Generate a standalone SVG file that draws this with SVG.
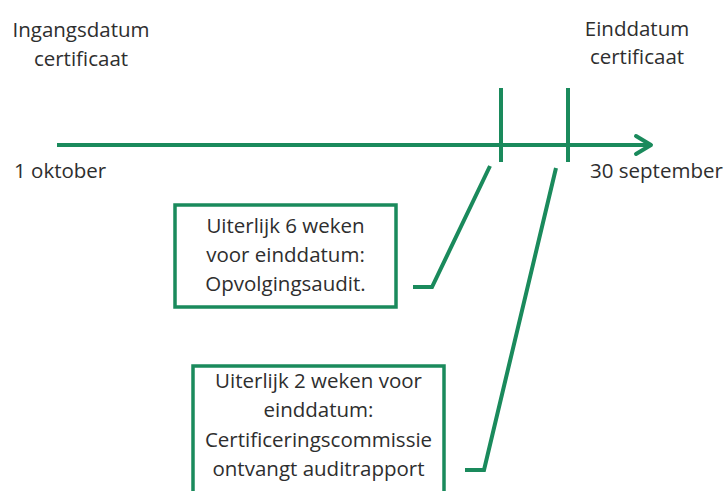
<svg xmlns="http://www.w3.org/2000/svg" width="728" height="491" viewBox="0 0 728 491">
<style>
.t{font-family:"Open Sans","Liberation Sans",sans-serif;font-size:20.5px;fill:#2e2e2e}
.m{text-anchor:middle}
.g{fill:none;stroke:#1a8a5c;stroke-width:4}
.b{fill:#fff;stroke:#1a8a5c;stroke-width:3.5}
</style>
<rect width="728" height="491" fill="#fff"/>
<g id="timeline">
<line class="g" x1="57" y1="145" x2="650" y2="145"/>
<polyline class="g" points="636,136 651,145 636,154" stroke-linecap="round" stroke-linejoin="round"/>
<line class="g" x1="501" y1="88" x2="501" y2="162"/>
<line class="g" x1="568" y1="88" x2="568" y2="162"/>
</g>
<g id="label-start">
<text class="t m" x="81" y="37">Ingangsdatum</text>
<text class="t m" x="81" y="66">certificaat</text>
</g>
<g id="label-end">
<text class="t m" x="637" y="36">Einddatum</text>
<text class="t m" x="637" y="64">certificaat</text>
</g>
<g id="label-1okt"><text class="t" x="14" y="178">1 oktober</text></g>
<g id="label-30sep"><text class="t" x="590" y="178">30 september</text></g>
<g id="box1">
<rect class="b" x="175" y="205" width="221" height="102"/>
<text class="t m" x="285.5" y="233">Uiterlijk 6 weken</text>
<text class="t m" x="285.5" y="262">voor einddatum:</text>
<text class="t m" x="285.5" y="291">Opvolgingsaudit.</text>
</g>
<g id="box2">
<rect class="b" x="193" y="366" width="251" height="135"/>
<text class="t m" x="318.5" y="388">Uiterlijk 2 weken voor</text>
<text class="t m" x="318.5" y="417">einddatum:</text>
<text class="t m" x="318.5" y="447">Certificeringscommissie</text>
<text class="t m" x="318.5" y="476">ontvangt auditrapport</text>
</g>
<g id="connectors">
<polyline class="g" points="490,166 432,287 413,287"/>
<polyline class="g" points="556,168 484,470 465,470"/>
</g>
</svg>
